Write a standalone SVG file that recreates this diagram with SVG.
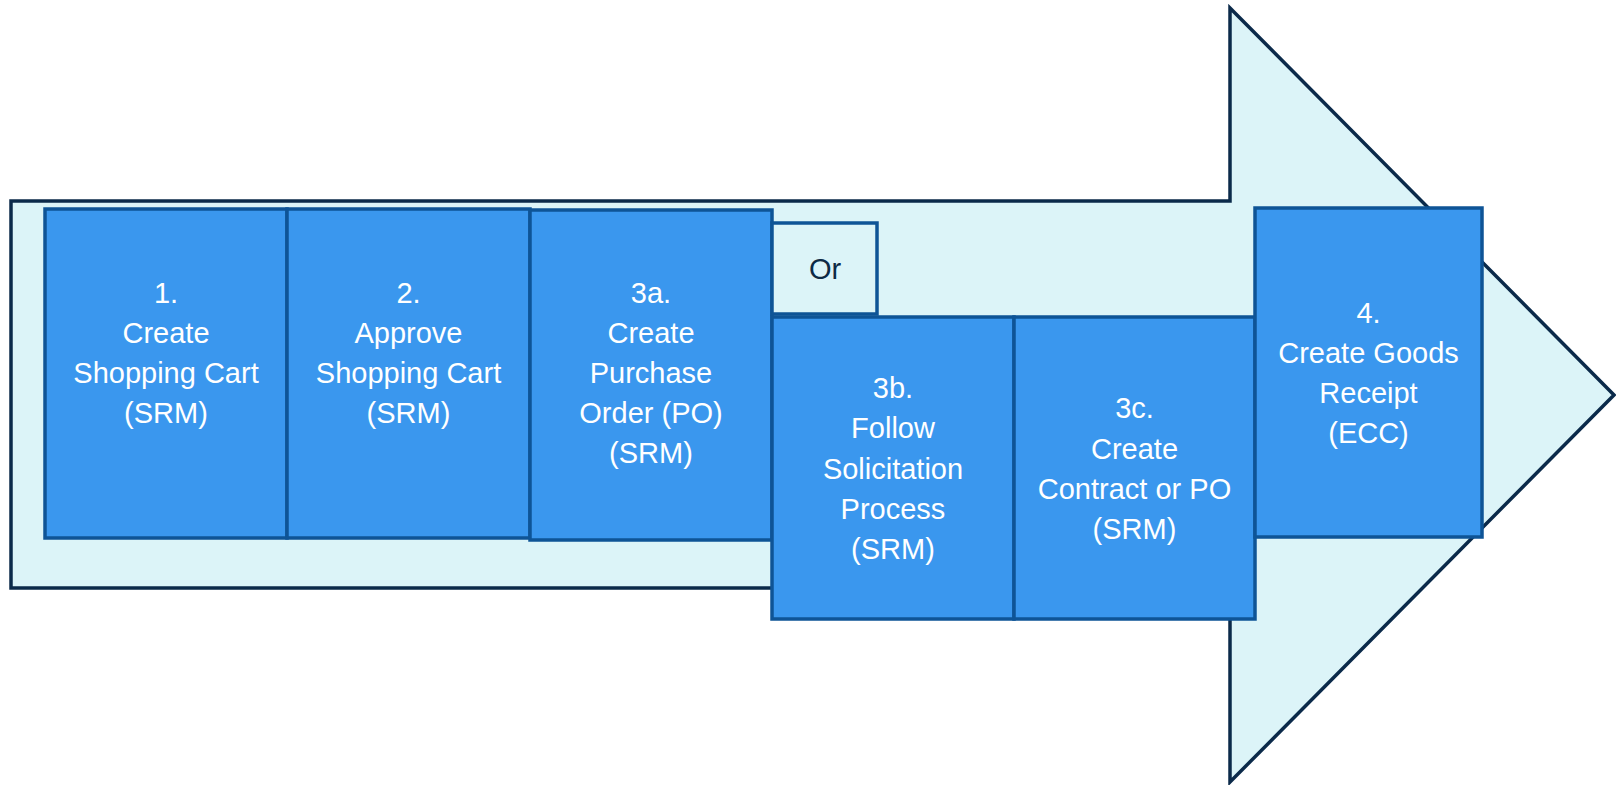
<svg xmlns="http://www.w3.org/2000/svg" width="1616" height="785" viewBox="0 0 1616 785">
<style>
.box{fill:#3a97ee;stroke:#0e5496;stroke-width:3.5}
.t{font-family:"Liberation Sans",Arial,sans-serif;font-size:29px;fill:#ffffff;text-anchor:middle}
.or{font-family:"Liberation Sans",Arial,sans-serif;font-size:29px;fill:#0d2a45;text-anchor:middle}
</style>
<rect width="1616" height="785" fill="#ffffff"/>
<g id="arrow">
<polygon points="11,201 1230,201 1230,8 1614,395 1230,782 1230,588 11,588" fill="#dcf4f8" stroke="#0b2a4a" stroke-width="3.5" stroke-linejoin="miter"/>
</g>
<g id="connectors"></g>
<g id="n1">
<rect class="box" x="45" y="209" width="242" height="329"/>
<text class="t" x="166" y="303">1.</text>
<text class="t" x="166" y="343">Create</text>
<text class="t" x="166" y="383">Shopping Cart</text>
<text class="t" x="166" y="423">(SRM)</text>
</g>
<g id="n2">
<rect class="box" x="287" y="209" width="243" height="329"/>
<text class="t" x="408.5" y="303">2.</text>
<text class="t" x="408.5" y="343">Approve</text>
<text class="t" x="408.5" y="383">Shopping Cart</text>
<text class="t" x="408.5" y="423">(SRM)</text>
</g>
<g id="n3a">
<rect class="box" x="530" y="210" width="242" height="330"/>
<text class="t" x="651" y="303">3a.</text>
<text class="t" x="651" y="343">Create</text>
<text class="t" x="651" y="383">Purchase</text>
<text class="t" x="651" y="423">Order (PO)</text>
<text class="t" x="651" y="463">(SRM)</text>
</g>
<g id="nOr">
<rect x="772" y="223" width="105" height="91" fill="#dcf4f8" stroke="#0e5496" stroke-width="3.5"/>
<text class="or" x="825" y="279">Or</text>
</g>
<g id="n3b">
<rect class="box" x="772" y="317" width="242" height="302"/>
<text class="t" x="893" y="398">3b.</text>
<text class="t" x="893" y="438">Follow</text>
<text class="t" x="893" y="478.5">Solicitation</text>
<text class="t" x="893" y="519">Process</text>
<text class="t" x="893" y="559">(SRM)</text>
</g>
<g id="n3c">
<rect class="box" x="1014" y="317" width="241" height="302"/>
<text class="t" x="1134.5" y="418">3c.</text>
<text class="t" x="1134.5" y="458.5">Create</text>
<text class="t" x="1134.5" y="498.5">Contract or PO</text>
<text class="t" x="1134.5" y="538.5">(SRM)</text>
</g>
<g id="n4">
<rect class="box" x="1255" y="208" width="227" height="329"/>
<text class="t" x="1368.5" y="323">4.</text>
<text class="t" x="1368.5" y="363">Create Goods</text>
<text class="t" x="1368.5" y="403">Receipt</text>
<text class="t" x="1368.5" y="443">(ECC)</text>
</g>
</svg>
